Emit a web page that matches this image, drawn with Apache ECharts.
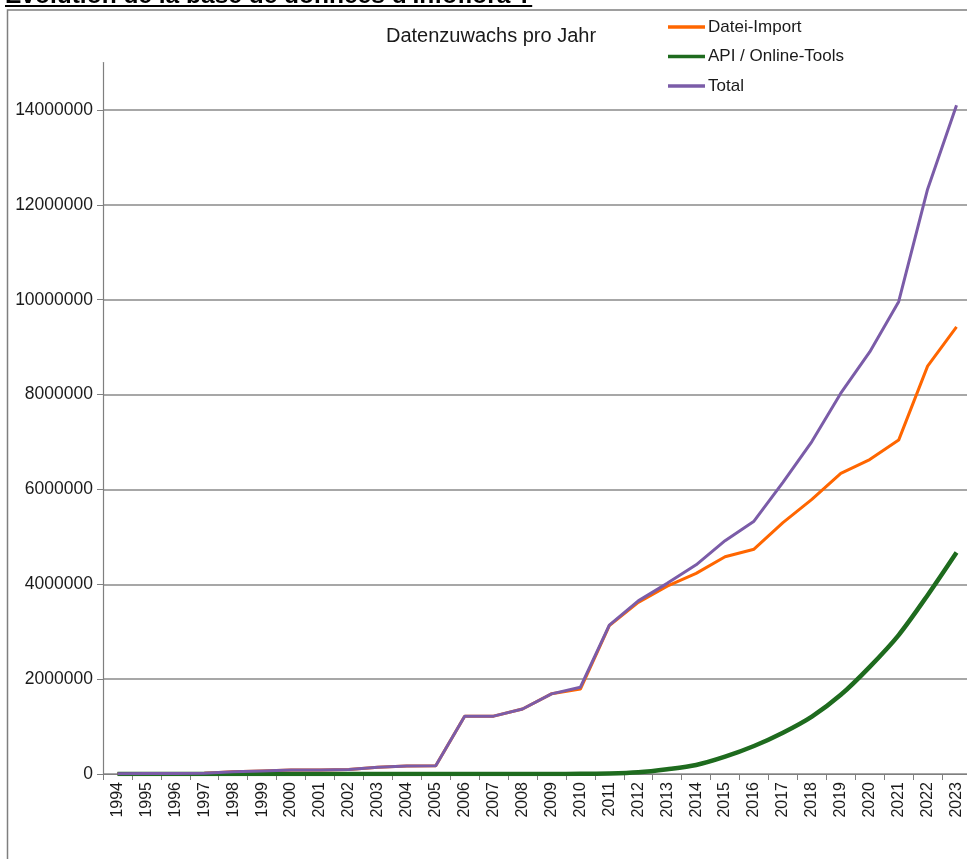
<!DOCTYPE html>
<html><head><meta charset="utf-8">
<script src="https://cdn.jsdelivr.net/npm/echarts@6/dist/echarts.min.js"></script>
<style>
html,body{margin:0;padding:0;background:#fff;overflow:hidden;width:967px;height:859px}
#chart{position:absolute;left:0;top:0;width:967px;height:859px}
#head{position:absolute;left:5px;top:-18px;font:bold 24.5px "Liberation Sans",Arial,sans-serif;line-height:26px;white-space:nowrap;text-decoration:underline;text-decoration-thickness:2px;text-underline-offset:1.5px;color:#000;z-index:2}
</style></head><body>
<div id="chart"></div>
<div id="head">Évolution de la base de données d'Infoflora ?</div>
<script>
const years = ['1994','1995','1996','1997','1998','1999','2000','2001','2002','2003','2004','2005','2006','2007','2008','2009','2010','2011','2012','2013','2014','2015','2016','2017','2018','2019','2020','2021','2022','2023'];
const dateiImport = [5000,8000,10000,15000,45000,65000,85000,85000,95000,140000,170000,175000,1220000,1220000,1370000,1690000,1790000,3130000,3620000,3960000,4230000,4580000,4740000,5300000,5790000,6340000,6630000,7040000,8600000,9430000];
const apiOnline = [0,0,0,0,0,0,0,0,0,0,0,0,0,0,0,0,5000,10000,35000,100000,190000,365000,590000,870000,1210000,1670000,2260000,2930000,3770000,4670000];
const total = [5000,8000,10000,15000,45000,65000,85000,85000,95000,140000,170000,175000,1220000,1220000,1370000,1690000,1830000,3140000,3650000,4020000,4410000,4920000,5330000,6150000,7010000,8030000,8900000,9960000,12330000,14100000];
const seriesNames = ['Datei-Import','API / Online-Tools','Total'];
const chartTitle = 'Datenzuwachs pro Jahr';
const yMax = 15000000;
const yStep = 2000000;

const font = '"Liberation Sans", Arial, sans-serif';
const colors = ['#FF6600', '#1E6B1E', '#7B5CA8'];
const chart = echarts.init(document.getElementById('chart'), null, {renderer: 'canvas'});
const grid = ['#8a8a8a','#8a8a8a','#8a8a8a','#8a8a8a','#8a8a8a','#8a8a8a','#8a8a8a','#8a8a8a','rgba(0,0,0,0)'];
chart.setOption({
  animation: false,
  backgroundColor: '#fff',
  title: {
    text: chartTitle, left: 381, top: 21,
    textStyle: {fontFamily: font, fontSize: 20, fontWeight: 'normal', color: '#1a1a1a'}
  },
  legend: {
    orient: 'vertical', left: 663, top: 13.5, itemGap: 12.5,
    itemWidth: 37, itemHeight: 3.5, icon: 'rect',
    textStyle: {fontFamily: font, fontSize: 17, color: '#1a1a1a', padding: [0,0,0,-2]},
    data: seriesNames
  },
  graphic: [{
    type: 'rect', z: -1, silent: true,
    shape: {x: 7.5, y: 10, width: 1000, height: 900},
    style: {fill: 'none', stroke: '#7f7f7f', lineWidth: 1.5}
  }],
  grid: {left: 103, right: -4, top: 62.6, bottom: 85, containLabel: false, outerBoundsMode: 'none'},
  xAxis: {
    type: 'category', data: years, boundaryGap: true,
    axisLine: {lineStyle: {color: '#7f7f7f', width: 1.2}},
    axisTick: {show: true, length: 6, alignWithLabel: false, lineStyle: {color: '#7f7f7f'}},
    axisLabel: {rotate: 90, fontFamily: font, fontSize: 16, color: '#1a1a1a', margin: 8, interval: 0},
    splitLine: {show: false}
  },
  yAxis: {
    type: 'value', min: 0, max: yMax, interval: yStep,
    axisLine: {show: true, lineStyle: {color: '#7f7f7f', width: 1.2}},
    axisTick: {show: true, length: 6, lineStyle: {color: '#7f7f7f'}},
    axisLabel: {fontFamily: font, fontSize: 17.5, color: '#1a1a1a', margin: 10, showMaxLabel: false,
      formatter: v => (v % yStep === 0 ? String(v) : '')},
    splitLine: {show: true, lineStyle: {color: grid, width: 1.5}}
  },
  series: [
    {name: seriesNames[0], type: 'line', data: dateiImport, showSymbol: false, symbol: 'none',
      lineStyle: {color: colors[0], width: 3}, itemStyle: {color: colors[0]}},
    {name: seriesNames[1], type: 'line', data: apiOnline, showSymbol: false, symbol: 'none', smooth: 0.3,
      lineStyle: {color: colors[1], width: 4.5}, itemStyle: {color: colors[1]}},
    {name: seriesNames[2], type: 'line', data: total, showSymbol: false, symbol: 'none',
      lineStyle: {color: colors[2], width: 3}, itemStyle: {color: colors[2]}}
  ]
});
</script>
</body></html>
